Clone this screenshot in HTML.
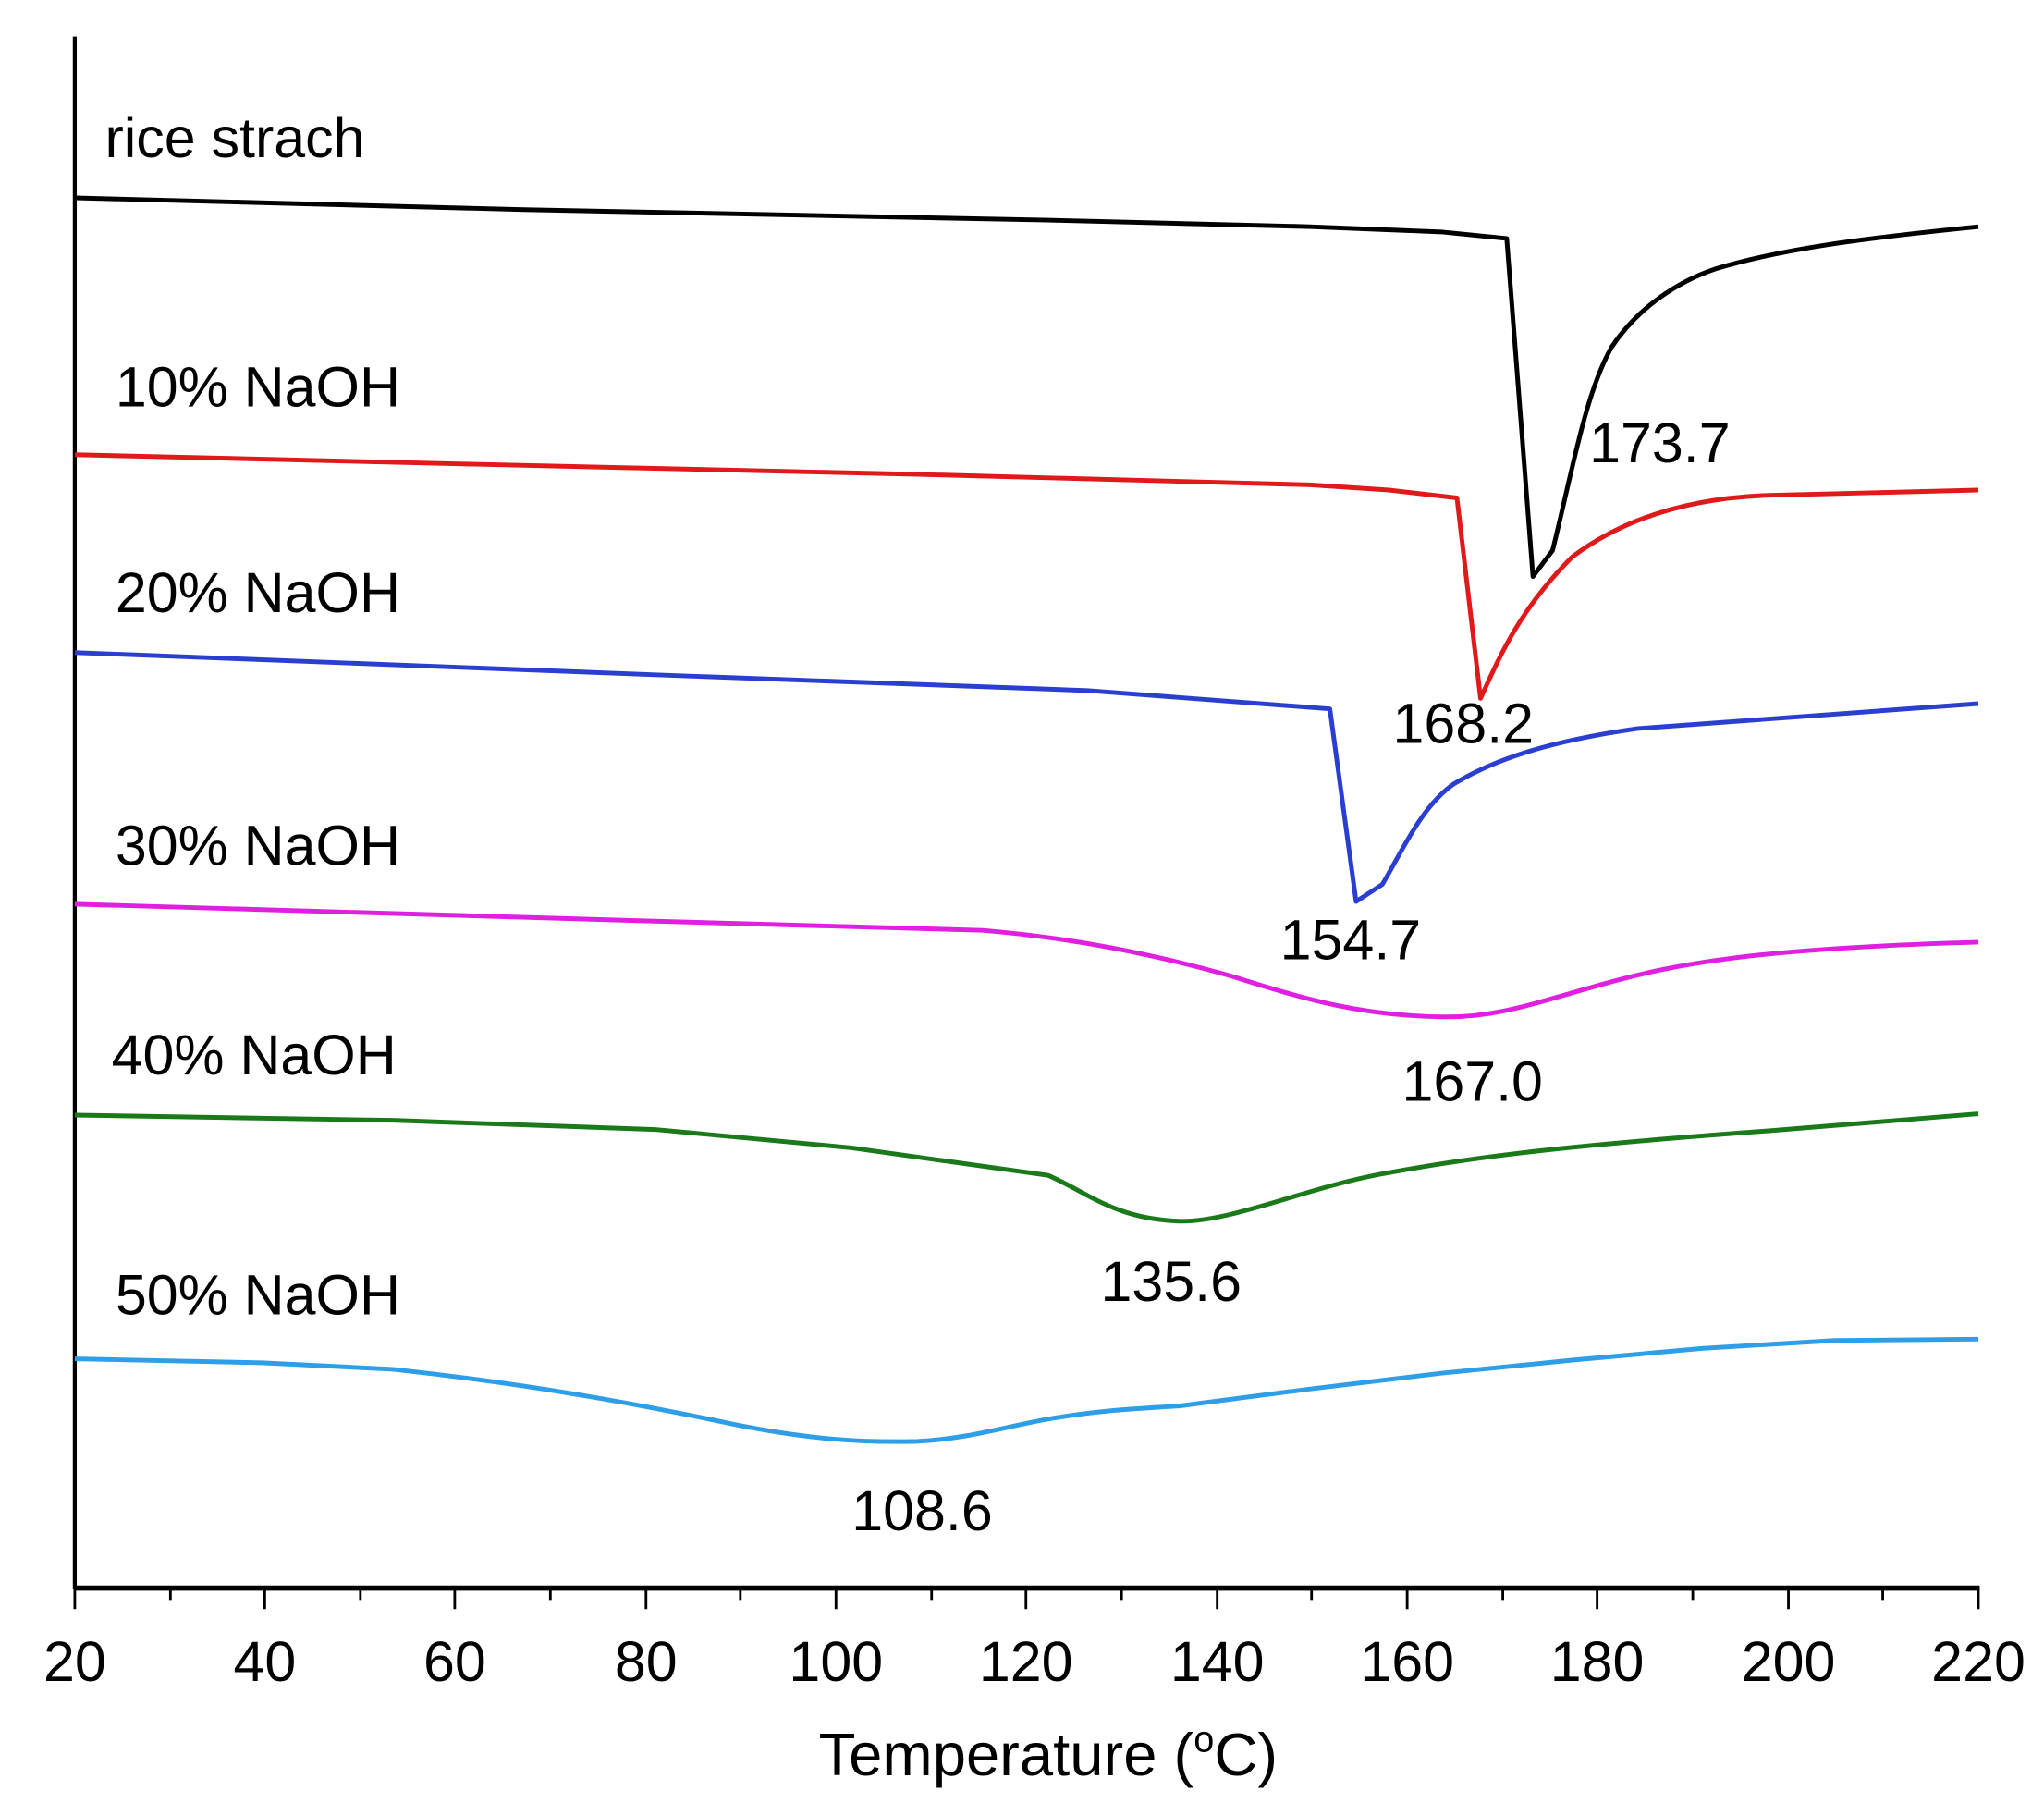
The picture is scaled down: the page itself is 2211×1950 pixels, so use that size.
<!DOCTYPE html>
<html><head><meta charset="utf-8"><style>html,body{margin:0;padding:0;background:#fff}svg{display:block}</style></head>
<body>
<svg width="2211" height="1950" viewBox="0 0 1560 1376" xmlns="http://www.w3.org/2000/svg" font-family="Liberation Sans, Arial, sans-serif">
<rect width="1560" height="1376" fill="#fff"/>
<g stroke="#000" stroke-width="3" fill="none">
<line x1="57" y1="28" x2="57" y2="1213"/>
<line x1="56" y1="1212" x2="1511" y2="1212" stroke-width="4"/>
</g>
<g stroke="#000" stroke-width="2">
<line x1="57" y1="1212" x2="57" y2="1228"/><line x1="130" y1="1212" x2="130" y2="1221"/>
<line x1="202" y1="1212" x2="202" y2="1228"/><line x1="275" y1="1212" x2="275" y2="1221"/>
<line x1="347" y1="1212" x2="347" y2="1228"/><line x1="420" y1="1212" x2="420" y2="1221"/>
<line x1="493" y1="1212" x2="493" y2="1228"/><line x1="565" y1="1212" x2="565" y2="1221"/>
<line x1="638" y1="1212" x2="638" y2="1228"/><line x1="711" y1="1212" x2="711" y2="1221"/>
<line x1="783" y1="1212" x2="783" y2="1228"/><line x1="856" y1="1212" x2="856" y2="1221"/>
<line x1="929" y1="1212" x2="929" y2="1228"/><line x1="1001" y1="1212" x2="1001" y2="1221"/>
<line x1="1074" y1="1212" x2="1074" y2="1228"/><line x1="1147" y1="1212" x2="1147" y2="1221"/>
<line x1="1219" y1="1212" x2="1219" y2="1228"/><line x1="1292" y1="1212" x2="1292" y2="1221"/>
<line x1="1365" y1="1212" x2="1365" y2="1228"/><line x1="1437" y1="1212" x2="1437" y2="1221"/>
<line x1="1510" y1="1212" x2="1510" y2="1228"/>
</g>
<g font-size="43" text-anchor="middle" fill="#000">
<text x="57" y="1283">20</text><text x="202" y="1283">40</text><text x="347" y="1283">60</text>
<text x="493" y="1283">80</text><text x="638" y="1283">100</text><text x="783" y="1283">120</text>
<text x="929" y="1283">140</text><text x="1074" y="1283">160</text><text x="1219" y="1283">180</text>
<text x="1365" y="1283">200</text><text x="1510" y="1283">220</text>
</g>
<text x="800" y="1355" font-size="46" text-anchor="middle">Temperature (<tspan font-size="28" dy="-18">o</tspan><tspan dy="18">C)</tspan></text>
<g fill="none" stroke-width="3.5" stroke-linejoin="round">
<path stroke="#000" d="M57,151 L400,160 L800,168 L1000,173 L1100,177 L1150,182 L1170,440 L1185,420 C1200,360 1210,300 1230,265 C1250,235 1280,215 1310,205 C1360,190 1420,182 1510,173"/>
<path stroke="#e0191b" d="M57,347 L350,354 L700,362 L1000,370 L1060,374 L1112,380 L1130,533 C1145,500 1160,465 1200,425 C1240,395 1290,380 1350,378 L1510,374"/>
<path stroke="#2a3fd0" d="M57,498 L500,515 L830,527 L1015,541 L1035,688 L1055,675 C1070,650 1085,615 1110,598 C1140,580 1180,566 1250,556 L1510,537"/>
<path stroke="#e020e0" d="M57,690 L500,703 L750,710 C820,716 880,728 940,745 C1000,764 1040,775 1100,776 C1140,777 1170,766 1220,752 C1280,735 1340,724 1510,719"/>
<path stroke="#1a7a1a" d="M57,851 L300,855 L500,862 L650,876 L800,897 C830,910 850,930 900,932 C940,933 1000,905 1060,895 C1130,882 1200,874 1350,863 L1510,850"/>
<path stroke="#2e9ee6" d="M57,1037 L200,1040 L300,1045 C400,1056 480,1070 560,1087 C620,1099 660,1101 700,1100 C740,1098 770,1088 800,1083 C840,1076 870,1075 900,1073 L1000,1060 L1100,1048 L1200,1038 L1300,1029 L1400,1023 L1510,1022"/>
</g>
<g font-size="43" fill="#000">
<text x="80" y="120">rice strach</text>
<text x="88" y="310">10% NaOH</text>
<text x="88" y="467">20% NaOH</text>
<text x="88" y="660">30% NaOH</text>
<text x="85" y="820">40% NaOH</text>
<text x="88" y="1003">50% NaOH</text>
<text x="1213" y="353">173.7</text>
<text x="1063" y="567">168.2</text>
<text x="977" y="732">154.7</text>
<text x="1070" y="840">167.0</text>
<text x="840" y="993">135.6</text>
<text x="650" y="1168">108.6</text>
</g>
</svg>
</body></html>
